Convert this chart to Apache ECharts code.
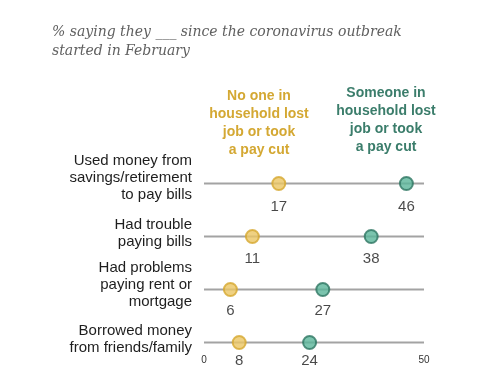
<!DOCTYPE html>
<html>
<head>
<meta charset="utf-8">
<script src="https://cdn.jsdelivr.net/npm/echarts@6/dist/echarts.min.js"></script>
<style>
html,body{margin:0;padding:0;background:#fff;}
#chart{width:498px;height:382px;}
</style>
</head>
<body>
<div id="chart"></div>
<script>
var categories = [
  "Used money from\nsavings/retirement\nto pay bills",
  "Had trouble\npaying bills",
  "Had problems\npaying rent or\nmortgage",
  "Borrowed money\nfrom friends/family"
];
var noJobLoss = [17, 11, 6, 8];
var jobLoss = [46, 38, 27, 24];
var axisMax = 50;
var xTicks = [0, 50];
var titleText = "% saying they ___ since the coronavirus outbreak\nstarted in February";
var legendNoLoss = "No one in\nhousehold lost\njob or took\na pay cut";
var legendLoss = "Someone in\nhousehold lost\njob or took\na pay cut";

var labelDist = [8, 7, 6, 3];
var catPad = [[0,0,12,0],[0,0,6,0],[0,0,10,0],[0,0,6,0]];

var chart = echarts.init(document.getElementById('chart'), null, {renderer: 'canvas'});

function pts(arr) {
  return arr.map(function (v, i) {
    return { value: [v, i], label: { distance: labelDist[i] } };
  });
}

var option = {
  backgroundColor: '#fff',
  animation: false,
  title: {
    text: titleText,
    left: 52,
    top: 23,
    padding: 0,
    textStyle: {
      fontFamily: 'DejaVu Serif',
      fontStyle: 'italic',
      fontWeight: 'normal',
      fontSize: 14,
      lineHeight: 19,
      color: '#606060'
    }
  },
  graphic: [
    {
      type: 'text', x: 259, y: 87,
      style: {
        text: legendNoLoss, align: 'center', verticalAlign: 'top',
        fontFamily: 'Liberation Sans', fontWeight: 'bold', fontSize: 14,
        lineHeight: 18, fill: '#D4A833'
      }
    },
    {
      type: 'text', x: 386, y: 84,
      style: {
        text: legendLoss, align: 'center', verticalAlign: 'top',
        fontFamily: 'Liberation Sans', fontWeight: 'bold', fontSize: 14,
        lineHeight: 18, fill: '#3B7D6B'
      }
    }
  ],
  grid: { left: 204, right: 74, top: 157, bottom: 13, containLabel: false },
  xAxis: {
    type: 'value', min: 0, max: axisMax, interval: axisMax,
    offset: -22,
    axisLine: { show: false }, axisTick: { show: false }, splitLine: { show: false },
    axisLabel: {
      fontFamily: 'Liberation Sans', fontSize: 10, color: '#333',
      formatter: function (v) { return xTicks.indexOf(v) >= 0 ? String(v) : ''; }
    }
  },
  yAxis: {
    type: 'category', data: categories, inverse: true,
    axisLine: { show: false }, axisTick: { show: false }, splitLine: { show: false },
    axisLabel: {
      fontFamily: 'Liberation Sans', fontSize: 15, lineHeight: 17, color: '#222',
      margin: 12, align: 'right',
      formatter: function (v, i) { return '{c' + i + '|' + v + '}'; },
      rich: {
        c0: { fontSize: 15, lineHeight: 17, color: '#1e1e1e', align: 'right', padding: catPad[0] },
        c1: { fontSize: 15, lineHeight: 17, color: '#1e1e1e', align: 'right', padding: catPad[1] },
        c2: { fontSize: 15, lineHeight: 17, color: '#1e1e1e', align: 'right', padding: catPad[2] },
        c3: { fontSize: 15, lineHeight: 17, color: '#1e1e1e', align: 'right', padding: catPad[3] }
      }
    }
  },
  series: [
    {
      type: 'bar', silent: true, barWidth: 2, z: 1,
      data: categories.map(function () { return axisMax; }),
      itemStyle: { color: '#a3a3a3' }
    },
    {
      type: 'scatter', symbolSize: 13, z: 3,
      data: pts(noJobLoss),
      itemStyle: { color: '#EBC563', borderColor: '#D6A72E', borderWidth: 2 },
      label: {
        show: true, position: 'bottom',
        formatter: function (p) { return p.value[0]; },
        fontFamily: 'Liberation Sans', fontSize: 15, color: '#1a1a1a'
      }
    },
    {
      type: 'scatter', symbolSize: 13, z: 3,
      data: pts(jobLoss),
      itemStyle: { color: '#5AB59A', borderColor: '#2D7561', borderWidth: 2 },
      label: {
        show: true, position: 'bottom',
        formatter: function (p) { return p.value[0]; },
        fontFamily: 'Liberation Sans', fontSize: 15, color: '#1a1a1a'
      }
    }
  ]
};
chart.setOption(option);
</script>
</body>
</html>
